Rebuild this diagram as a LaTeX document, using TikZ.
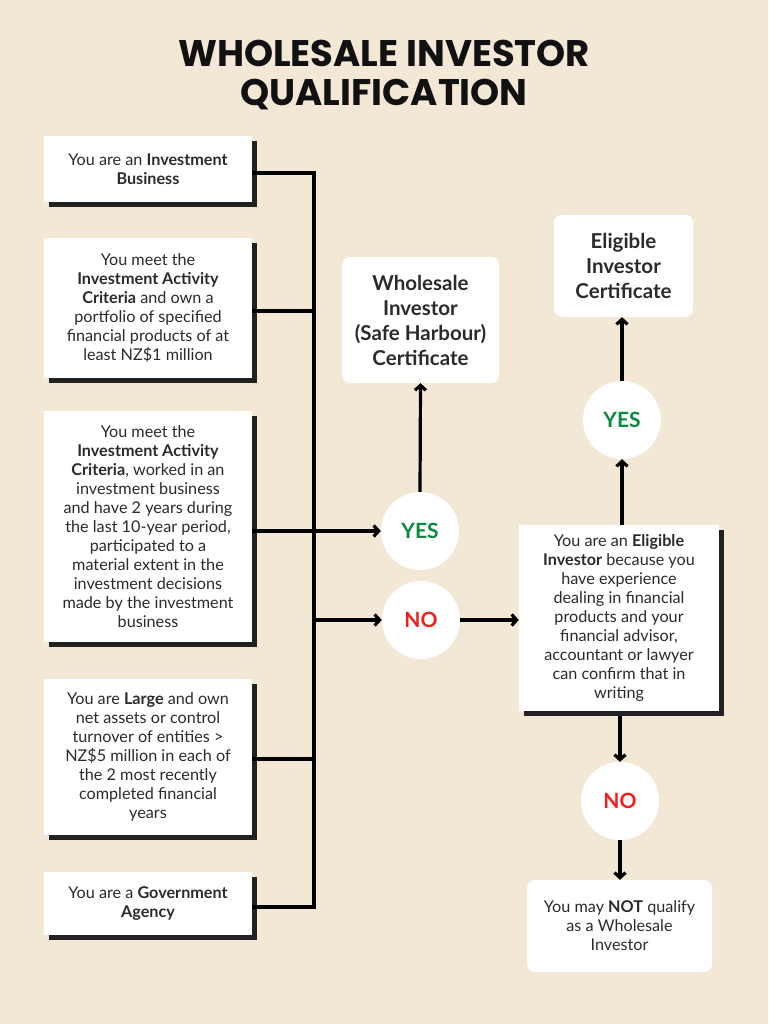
\documentclass[tikz,border=0pt]{standalone}
\usepackage{fontspec}
\setmainfont{Lato}
\newfontfamily\headfont{Poppins}
\usepackage{xcolor}
\usetikzlibrary{arrows.meta,positioning,shadows,calc}
\definecolor{PAPER}{HTML}{F3E7D5}
\definecolor{INK}{HTML}{2B2B2B}
\definecolor{TITLE}{HTML}{111111}
\definecolor{SHADE}{HTML}{222222}
\definecolor{YESGREEN}{HTML}{0A8A3E}
\definecolor{NORED}{HTML}{F21D1D}

\begin{document}
\begin{tikzpicture}[
  x=1pt, y=-1pt,
  font=\fontsize{16.2}{19}\selectfont,
  crit/.style={fill=white, minimum width=208pt, align=center, text=INK, inner sep=0pt,
    drop shadow={shadow xshift=5pt, shadow yshift=-5pt, fill=SHADE, opacity=1}},
  cert/.style={fill=white, rounded corners=8pt, align=center, text=INK, inner sep=0pt,
    font=\fontsize{20.5}{25}\selectfont\bfseries},
  verdict/.style={circle, fill=white, minimum size=78pt, inner sep=0pt,
    font=\fontsize{21}{25}\selectfont\bfseries},
  link/.style={draw=black, line width=3.2pt},
  flow/.style={link, -{Straight Barb[length=5pt, width=11pt]}},
]

% ---- page -----------------------------------------------------------------
\fill[PAPER] (0,0) rectangle (768,1024);
\useasboundingbox (0,0) rectangle (768,1024);

% ---- title ----------------------------------------------------------------
\node[font=\headfont\bfseries\fontsize{37}{39}\selectfont, text=TITLE, align=center] (title) at (384,75)
  {WHOLESALE INVESTOR\\QUALIFICATION};

% ---- criteria on the left -------------------------------------------------
\node[crit, minimum height=66pt] (b1) at (148,169)
  {You are an \textbf{Investment}\\\textbf{Business}};
\node[crit, minimum height=140pt] (b2) at (148,308)
  {You meet the\\\textbf{Investment Activity}\\\textbf{Criteria} and own a\\portfolio of specified\\financial products of at\\least NZ\$1 million};
\node[crit, minimum height=231pt] (b3) at (148,526.5)
  {You meet the\\\textbf{Investment Activity}\\\textbf{Criteria}, worked in an\\investment business\\and have 2 years during\\the last 10-year period,\\participated to a\\material extent in the\\investment decisions\\made by the investment\\business};
\node[crit, minimum height=156pt] (b4) at (148,757)
  {You are \textbf{Large} and own\\net assets or control\\turnover of entities >\\NZ\$5 million in each of\\the 2 most recently\\completed financial\\years};
\node[crit, minimum height=63pt] (b5) at (148,903.5)
  {You are a \textbf{Government}\\\textbf{Agency}};

% ---- collecting bus -------------------------------------------------------
\coordinate (bus1) at (314,173);
\coordinate (bus2) at (314,311);
\coordinate (bus3) at (314,531);
\coordinate (bus4) at (314,759);
\coordinate (bus5) at (314,907);
\coordinate (busno) at (314,620);
\draw[link] (b1.east |- bus1) -- (bus1) -- (bus5) -- (b5.east |- bus5);
\draw[link] (b2.east |- bus2) -- (bus2);
\draw[link] (b3.east |- bus3) -- (bus3);
\draw[link] (b4.east |- bus4) -- (bus4);

% ---- first decision -------------------------------------------------------
\node[verdict, text=YESGREEN] (yes1) at (420,531) {YES};
\node[verdict, text=NORED] (no1) at (421,620) {NO};
\draw[flow] (bus3) -- (yes1.west);
\draw[flow] (busno) -- (no1.west);

\node[cert, minimum width=157pt, minimum height=126pt] (ws) at (420.5,320)
  {Wholesale\\Investor\\(Safe Harbour)\\Certificate};
\draw[flow] (yes1.north) -- (ws.south);

% ---- eligible investor route ----------------------------------------------
\node[crit, minimum width=200pt, minimum height=186pt] (elig) at (619,618)
  {You are an \textbf{Eligible}\\\textbf{Investor} because you\\have experience\\dealing in financial\\products and your\\financial advisor,\\accountant or lawyer\\can confirm that in\\writing};
\draw[flow] (no1.east) -- (elig.west |- no1.east);

\node[verdict, text=YESGREEN] (yes2) at (622,420) {YES};
\node[cert, minimum width=139pt, minimum height=102pt] (ec) at (623.5,266)
  {Eligible\\Investor\\Certificate};
\draw[flow] (elig.north -| yes2) -- (yes2.south);
\draw[flow] (yes2.north) -- (ec.south -| yes2);

\node[verdict, text=NORED] (no2) at (620,801) {NO};
\node[cert, font=\fontsize{16.2}{19}\selectfont, minimum width=185pt, minimum height=92pt] (final) at (619.5,926)
  {You may \textbf{NOT} qualify\\as a Wholesale\\Investor};
\draw[flow] ($(elig.south -| no2)+(0,5)$) -- (no2.north);
\draw[flow] (no2.south) -- (final.north -| no2);

\end{tikzpicture}
\end{document}
